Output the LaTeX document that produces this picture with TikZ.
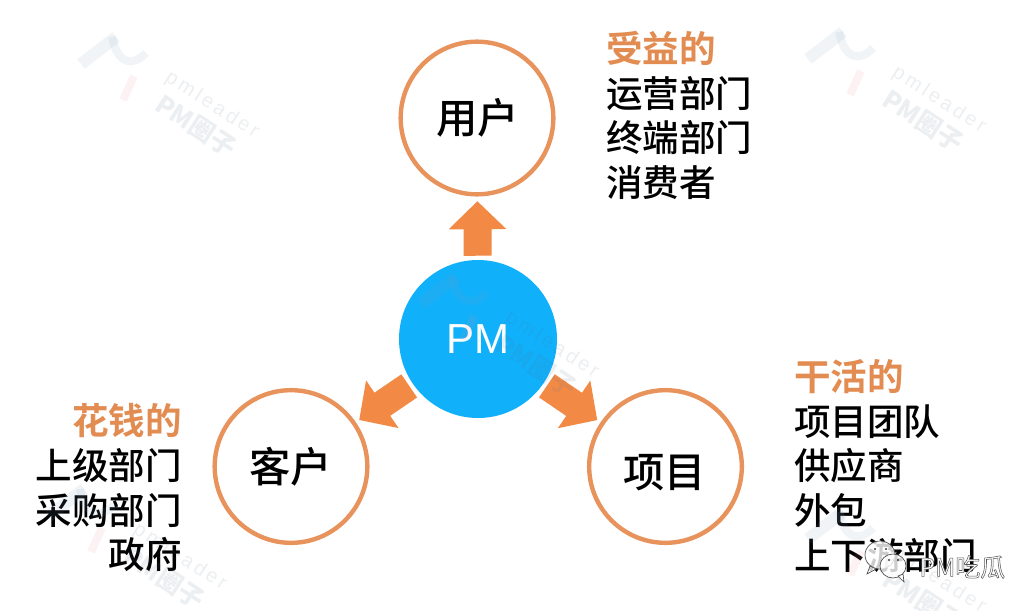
\documentclass[tikz,border=0pt]{standalone}
\usepackage{fontspec}
\usetikzlibrary{arrows.meta}
\setmainfont{Noto Sans CJK SC}
\newfontfamily\latinfont{Liberation Sans}
\newfontfamily\cjkmed{Noto Sans CJK SC Medium}
\definecolor{ringc}{HTML}{E8925C}
\definecolor{arrowc}{HTML}{F28A46}
\definecolor{headc}{HTML}{E28C52}
\definecolor{pmblue}{HTML}{10B0FB}
\definecolor{wmblue}{HTML}{7F9DBB}
\definecolor{wmred}{HTML}{E8909A}
\newcommand{\outlinedtext}[1]{\special{pdf:code q 2 Tr 0.4 w 0.35 0.35 0.35 RG}#1\special{pdf:code Q}}
\newcommand{\wmtile}[2]{%
\begin{scope}[shift={(#1,#2)},opacity=.11]
  \draw[wmblue,line width=9pt,line cap=butt] (81,64) -- (116,37);
  \draw[wmblue,line width=6pt] (112,37) .. controls (118,66) and (134,66) .. (146,53);
  \draw[wmred,line width=6pt] (134,76) -- (123,100);
  \node[wmtext,font=\latinfont\fontsize{15}{15}\selectfont] (wmp#1) at (212,105) {p\,m\,l\,e\,a\,d\,e\,r};
  \node[wmtext,font=\fontsize{19}{19}\selectfont\bfseries] (wmq#1) at (196,126) {PM圈子};
\end{scope}}
\tikzset{
  ringnode/.style={circle,draw=ringc,line width=3.3pt,fill=white,minimum size=114.5pt,inner sep=0pt,font=\cjkmed\fontsize{31}{31}\selectfont},
  pmnode/.style={circle,fill=pmblue,minimum size=118.5pt,inner sep=0pt,text=white,font=\latinfont\fontsize{31.5}{31.5}\selectfont},
  blockarrow/.style={arrowc,line width=21pt,-{Triangle[length=21pt,width=42pt]}},
  listtext/.style={inner sep=0pt,font=\cjkmed\fontsize{27.4}{33.5}\selectfont},
  wmtext/.style={inner sep=0pt,rotate=-33,text=wmblue!70!black},
  bubble/.style={fill=white,fill opacity=.8,draw=black!70,line width=.5pt},
  eye/.style={fill=black!75,circle,inner sep=.6pt},
}
\newcommand{\heading}[1]{\textcolor{headc}{\fontspec{Noto Sans CJK SC Bold}#1}}
\begin{document}
\begin{tikzpicture}[x=0.75pt,y=-0.75pt]
\useasboundingbox (0,0) rectangle (1013,610);
\fill[white] (0,0) rectangle (1013,610);
\node[ringnode] (user) at (477,118) {\hspace*{1pt}用户};
\node[ringnode] (client) at (291,466.5) {\hspace*{-1pt}客户};
\node[ringnode] (project) at (665.5,466.5) {\hspace*{-1pt}\raisebox{-16pt}[15pt][15pt]{项目}};
\node[pmnode] (pm) at (478,339) {PM};
\draw[blockarrow,shorten <=3pt,shorten >=3.5pt] (pm) -- (user);
\draw[blockarrow,shorten <=3pt,shorten >=3pt] (pm) -- (client);
\draw[blockarrow,shorten <=3pt,shorten >=3pt] (pm) -- (project);
\node[listtext,anchor=west,align=left] (usertext) at (606,115.5) {\heading{受益的}\\运营部门\\终端部门\\消费者};
\node[listtext,anchor=west,align=left] (projtext) at (794,466) {\heading{干活的}\\项目团队\\供应商\\外包\\上下游部门};
\node[listtext,anchor=east,align=right] (clienttext) at (182,488) {\heading{花钱的}\\上级部门\\采购部门\\政府};
\wmtile{0}{0}
\wmtile{727}{-5}
\wmtile{340}{240}
\wmtile{-32}{452}
\wmtile{727}{475}
% WeChat mark
\path[bubble] (880,555) ellipse (15 and 14);
\path[bubble] (870,566) -- (867,574) -- (876,569) -- cycle;
\node[eye] (e1) at (875,549) {};
\node[eye] (e2) at (886,549) {};
\path[bubble] (893,566) ellipse (13 and 12);
\path[bubble] (898,576) -- (904,582) -- (903,574) -- cycle;
\node[eye] (e3) at (889,560) {};
\node[eye] (e4) at (898,560) {};
\node[inner sep=0pt,anchor=west,text=white,font=\fontsize{18.7}{18.7}\selectfont] (mark) at (919,567) {\outlinedtext{PM吃瓜}};
\end{tikzpicture}
\end{document}
